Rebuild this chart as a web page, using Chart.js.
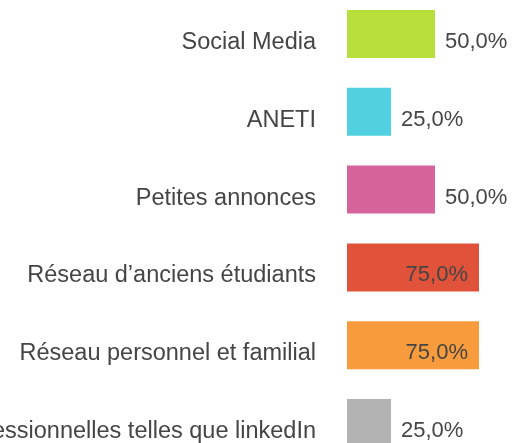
<!DOCTYPE html>
<html lang="fr">
<head>
  <meta charset="UTF-8" />
  <title>Chart</title>
  <style>
    html, body { margin: 0; padding: 0; background: #fff; overflow: hidden; width: 513px; height: 443px; }
    .wrap { position: absolute; left: -200px; top: -5px; width: 723px; height: 467px; }
  </style>
</head>
<body>
  <div class="wrap">
    <canvas id="myCanvas"></canvas>
  </div>

  <script src="https://cdn.jsdelivr.net/npm/chart.js"></script>
  <script>
    const categories = [
      "Social Media",
      "ANETI",
      "Petites annonces",
      "Réseau d’anciens étudiants",
      "Réseau personnel et familial",
      "Plateformes professionnelles telles que linkedIn"
    ];
    const values = [50, 25, 50, 75, 75, 25];
    const colors = ['#b9df3c', '#51d0e0', '#d4649a', '#e0523a', '#f89b3c', '#b3b3b3'];

    const textColor = '#454545';
    const fontFamily = '"Liberation Sans", Arial, sans-serif';

    // value labels: outside the bar when short, inside when long
    const valueLabels = {
      id: 'valueLabels',
      afterDatasetsDraw(chart) {
        const ctx = chart.ctx;
        const meta = chart.getDatasetMeta(0);
        ctx.save();
        ctx.font = '22px ' + fontFamily;
        ctx.fillStyle = textColor;
        ctx.textBaseline = 'middle';
        meta.data.forEach((bar, i) => {
          const txt = values[i].toFixed(1).replace('.', ',') + '%';
          if (values[i] > 60) {
            ctx.textAlign = 'right';
            ctx.fillText(txt, bar.x - 11, bar.y + 8);
          } else {
            ctx.textAlign = 'left';
            ctx.fillText(txt, bar.x + 10, bar.y + 8);
          }
        });
        ctx.restore();
      }
    };

    new Chart(document.getElementById("myCanvas"), {
      type: "bar",
      data: {
        labels: categories,
        datasets: [{
          data: values,
          backgroundColor: colors,
          categoryPercentage: 1,
          barPercentage: 0.617
        }]
      },
      options: {
        indexAxis: 'y',
        responsive: true,
        maintainAspectRatio: false,
        animation: false,
        layout: { padding: 0 },
        plugins: {
          legend: { display: false },
          tooltip: { enabled: false }
        },
        scales: {
          x: {
            display: false,
            min: 0,
            max: 100
          },
          y: {
            grid: { display: false, drawTicks: false },
            border: { display: false },
            ticks: {
              color: textColor,
              font: { size: 23.5, family: fontFamily },
              padding: 31,
              labelOffset: 8.5
            },
            afterFit: s => {
              s.width = 547;
              s.paddingTop = 0;
              s.paddingBottom = 0;
            }
          }
        }
      },
      plugins: [valueLabels]
    });
  </script>
</body>
</html>
